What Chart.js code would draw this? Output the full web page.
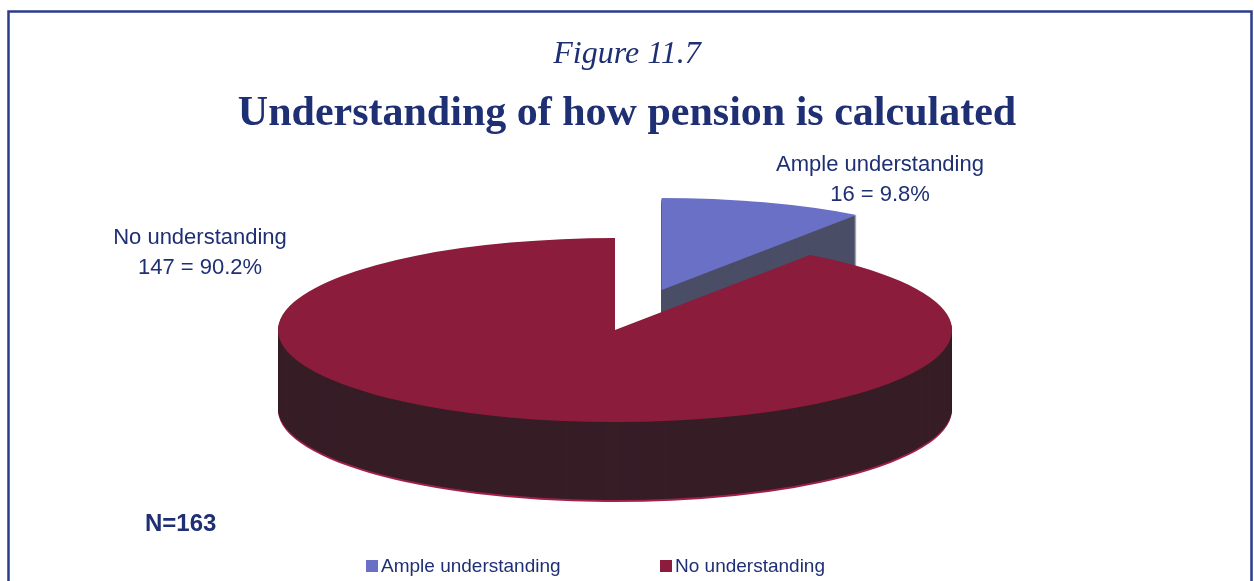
<!DOCTYPE html>
<html>
<head>
<meta charset="utf-8">
<script src="https://cdn.jsdelivr.net/npm/chart.js@4.4.1/dist/chart.umd.min.js"></script>
<style>
  html, body { margin: 0; padding: 0; background: #fff; }
  #wrap { width: 1254px; height: 581px; position: relative; }
</style>
</head>
<body>
<div id="wrap"><canvas id="pensionChart" width="1254" height="581"></canvas></div>
<script>
// Figure 11.7 — 3D 느낌의 파이 (Chart.js pie + 직접 그린 옆면)
const categories = ["Ample understanding", "No understanding"];
const counts = [16, 147];
const explode = [0.456, 0];          // 반지름 대비 분리 비율
const topColors = ["#6a70c6", "#8b1c3b"];
const sideColors = ["#4a4e66", "#361d26"];
const rimColors = ["#4a4e66", "#a1214a"];

const NAVY = "#1f2f74";
const PIE = { cx: 615, cy: 330, rx: 337, ry: 92, depth: 80 };
const LABEL_POS = [[880, 165], [200, 238]];
const LEGEND_POS = [[366, 566], [660, 566]];

function total() {
  return counts.reduce((s, v) => s + v, 0);
}

function pctText(i) {
  return ((counts[i] / total()) * 100).toFixed(1) + "%";
}

function applyPieTransform(ctx, arc, i, dy) {
  const R = arc.outerRadius;
  const mid = (arc.startAngle + arc.endAngle) / 2;
  const ox = Math.cos(mid) * explode[i] * R;
  const oy = Math.sin(mid) * explode[i] * R;
  ctx.translate(PIE.cx, PIE.cy + dy);
  ctx.scale(PIE.rx / R, PIE.ry / R);
  ctx.translate(-arc.x + ox, -arc.y + oy);
}

function slicePath(ctx, arc) {
  ctx.beginPath();
  ctx.moveTo(arc.x, arc.y);
  ctx.arc(arc.x, arc.y, arc.outerRadius, arc.startAngle, arc.endAngle);
  ctx.closePath();
}

const pie3d = {
  id: "pie3d",
  beforeDraw(chart) {
    const ctx = chart.ctx;
    ctx.save();
    ctx.fillStyle = "#fff";
    ctx.fillRect(0, 0, chart.width, chart.height);
    // 테두리 (아래쪽 선은 없음)
    ctx.strokeStyle = "#2b3c8c";
    ctx.lineWidth = 2.5;
    ctx.beginPath();
    ctx.moveTo(8.5, chart.height);
    ctx.lineTo(8.5, 11.5);
    ctx.lineTo(1251.5, 11.5);
    ctx.lineTo(1251.5, chart.height);
    ctx.stroke();
    ctx.restore();
  },
  beforeDatasetsDraw(chart) {
    const ctx = chart.ctx;
    const arcs = chart.getDatasetMeta(0).data;
    // 뒤쪽(분리된) 조각 먼저
    const order = arcs.map((a, i) => i).sort((a, b) => explode[b] - explode[a]);
    order.forEach((i) => {
      const arc = arcs[i];
      for (let d = PIE.depth; d >= 1; d--) {
        ctx.save();
        applyPieTransform(ctx, arc, i, d);
        slicePath(ctx, arc);
        ctx.fillStyle = d >= PIE.depth - 1 ? rimColors[i] : sideColors[i];
        ctx.fill();
        ctx.restore();
      }
      ctx.save();
      applyPieTransform(ctx, arc, i, 0);
      arc.draw(ctx);
      ctx.restore();
    });
    return false;
  },
  afterDraw(chart) {
    const ctx = chart.ctx;
    ctx.save();
    ctx.fillStyle = NAVY;
    ctx.textAlign = "center";
    ctx.textBaseline = "middle";
    ctx.font = "22px 'Liberation Sans', Arial, sans-serif";
    categories.forEach((name, i) => {
      const [x, y] = LABEL_POS[i];
      ctx.fillText(name, x, y);
      ctx.fillText(counts[i] + " = " + pctText(i), x, y + 30);
    });

    ctx.textAlign = "left";
    ctx.font = "bold 24px 'Liberation Sans', Arial, sans-serif";
    ctx.fillText("N=" + total(), 145, 524);

    ctx.font = "19px 'Liberation Sans', Arial, sans-serif";
    categories.forEach((name, i) => {
      const [x, y] = LEGEND_POS[i];
      ctx.fillStyle = topColors[i];
      ctx.fillRect(x, y - 6, 12, 12);
      ctx.fillStyle = NAVY;
      ctx.fillText(name, x + 15, y + 1);
    });
    ctx.restore();
  },
};

new Chart(document.getElementById("pensionChart"), {
  type: "pie",
  data: {
    labels: categories,
    datasets: [
      {
        data: counts,
        backgroundColor: topColors,
        borderWidth: 0,
      },
    ],
  },
  options: {
    responsive: false,
    animation: false,
    layout: { padding: { top: 12, left: 20, right: 20, bottom: 20 } },
    plugins: {
      legend: { display: false },
      tooltip: { enabled: false },
      title: {
        display: true,
        text: "Figure 11.7",
        color: NAVY,
        font: { family: "'Liberation Serif', 'Times New Roman', serif", size: 32, style: "italic", weight: "normal" },
        padding: { top: 23, bottom: 8 },
      },
      subtitle: {
        display: true,
        text: "Understanding of how pension is calculated",
        color: NAVY,
        font: { family: "'Liberation Serif', 'Times New Roman', serif", size: 42, weight: "bold" },
        padding: { top: 8, bottom: 10 },
      },
    },
  },
  plugins: [pie3d],
});
</script>
</body>
</html>
